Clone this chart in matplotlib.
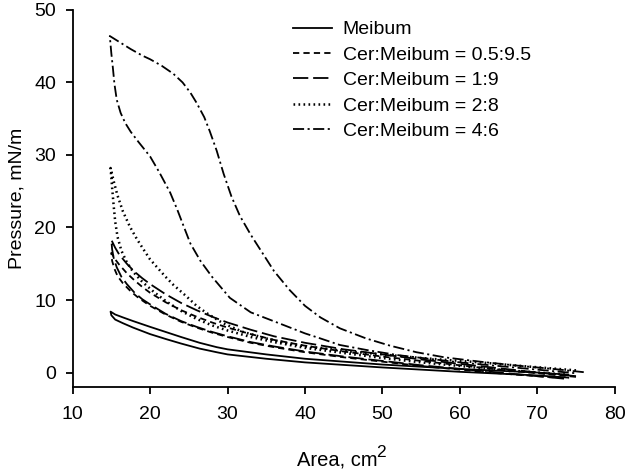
import matplotlib
matplotlib.use("Agg")
import matplotlib.pyplot as plt

plt.rcParams["font.family"] = ["Liberation Sans", "DejaVu Sans"]
plt.rcParams["lines.scale_dashes"] = False

# Each isotherm: compression branch (area decreasing) then expansion branch.
meibum_area = [74, 70, 60, 50, 40, 35, 30, 28.6, 26.4, 24, 22, 20, 17.8, 16.5, 15.5, 14.9,
               15.0, 15.5, 16.5, 17.8, 20, 22.1, 24, 26.4, 28.6, 30, 35, 40, 50, 60, 70, 74]
meibum_p = [-0.3, 0.0, 0.5, 1.1, 1.9, 2.5, 3.2, 3.5, 4.1, 4.9, 5.6, 6.3, 7.1, 7.6, 8.0, 8.4,
            7.9, 7.3, 6.8, 6.2, 5.3, 4.6, 4.0, 3.3, 2.8, 2.5, 1.9, 1.4, 0.7, 0.1, -0.4, -0.7]

c05_area = [75, 70, 65, 60, 55, 50, 45, 40, 36, 33, 30, 28, 26, 24, 22, 20, 19, 18, 17, 16, 15.5, 15,
            15.1, 15.4, 15.8, 16.5, 17.5, 18.5, 20, 22, 24, 26, 28, 30, 33, 36, 40, 45, 50, 55, 60,
            65, 70, 74]
c05_p = [-0.6, -0.1, 0.4, 1.0, 1.6, 2.2, 2.9, 3.7, 4.5, 5.3, 6.2, 6.9, 7.7, 8.6, 9.7, 11.0, 11.8,
         12.7, 13.7, 14.9, 15.6, 16.5,
         15.4, 14.3, 13.3, 12.3, 11.2, 10.3, 9.2, 8.0, 7.0, 6.2, 5.5, 4.9, 4.1, 3.5, 2.8, 2.1, 1.5,
         0.9, 0.4, -0.1, -0.5, -0.8]

c19_area = [75, 70, 65, 60, 55, 50, 45, 40, 36, 33, 30, 28, 26, 24, 22, 20, 19, 18, 17, 16, 15.5, 15,
            15.1, 15.3, 15.7, 16.3, 17, 18, 19, 20, 22, 24, 26, 28, 30, 33, 36, 40, 45, 50, 55, 60,
            65, 70, 74]
c19_p = [-0.5, 0.0, 0.6, 1.2, 1.8, 2.5, 3.2, 4.1, 5.0, 5.9, 6.9, 7.7, 8.6, 9.6, 10.8, 12.2, 13.0,
         13.9, 15.0, 16.3, 17.2, 18.3,
         17.0, 15.8, 14.5, 13.2, 12.2, 11.0, 10.1, 9.4, 8.1, 7.1, 6.3, 5.6, 5.0, 4.2, 3.6, 2.9, 2.2,
         1.6, 1.0, 0.5, 0.0, -0.5, -0.9]

c28_area = [75, 68, 62.6, 55, 50, 45.8, 41, 38, 35, 32, 29.4, 27.3, 26, 24.7, 23, 22, 21, 20, 19.2,
            18.3, 17.4, 16.5, 15.8, 15.3, 14.9,
            15.1, 15.3, 15.5, 15.8, 16.3, 17, 17.8, 19, 20.5, 22.1, 24, 26, 28, 30, 33, 36, 40, 45,
            50, 55, 60, 65, 70, 74]
c28_p = [0.3, 0.9, 1.4, 2.0, 2.5, 2.9, 3.5, 4.0, 4.7, 5.6, 6.8, 8.2, 9.2, 10.5, 12.1, 13.2, 14.4,
         15.6, 16.9, 18.4, 20.1, 22.2, 24.4, 26.4, 28.2,
         25.5, 23.0, 20.8, 18.7, 16.8, 15.2, 13.9, 12.5, 11.1, 9.8, 8.5, 7.4, 6.5, 5.8, 4.9, 4.2,
         3.4, 2.7, 2.0, 1.4, 0.9, 0.4, 0.0, -0.3]

c46_area = [76, 72, 67, 62.6, 58, 54.4, 51, 47.9, 44.5, 42, 40, 38, 36, 34.5, 33, 31.6, 30.5, 29.5,
            28.6, 27.7, 27, 26, 25.2, 24.2, 23, 21.5, 20, 19, 17.5, 16, 14.8,
            15.0, 15.2, 15.4, 15.7, 16.2, 16.8, 17.5, 18.5, 20, 21.2, 22.6, 23.5, 24.4, 25.2, 26.5, 28,
            30.3, 33, 36.4, 40, 42, 44.5, 48, 52, 56, 60, 65, 70, 75]
c46_p = [0.05, 0.5, 1.0, 1.5, 2.1, 2.8, 3.7, 4.7, 6.1, 7.6, 9.2, 11.4, 14.0, 16.5, 19.0, 21.6,
         24.3, 27.4, 30.6, 33.3, 35.2, 37.2, 38.6, 40.0, 41.2, 42.3, 43.2, 43.7, 44.6, 45.6, 46.4,
         44.0, 42.0, 39.8, 37.6, 35.8, 34.4, 33.2, 31.8, 29.8, 27.6, 24.8, 22.5, 20.0, 17.8, 15.4, 13.2,
         10.3, 8.3, 6.9, 5.4, 4.7, 3.8, 3.1, 2.4, 1.9, 1.4, 0.9, 0.4, -0.1]

labels = ["Meibum", "Cer:Meibum = 0.5:9.5", "Cer:Meibum = 1:9",
          "Cer:Meibum = 2:8", "Cer:Meibum = 4:6"]

fig = plt.figure(figsize=(6.26, 4.72), dpi=100)
ax = fig.add_axes([0.116, 0.180, 0.866, 0.799])

lw = 1.3
ax.plot(meibum_area, meibum_p, color="black", lw=lw, label=labels[0])
ax.plot(c05_area, c05_p, color="black", lw=lw, dashes=(4.5, 3), label=labels[1])
ax.plot(c19_area, c19_p, color="black", lw=lw, dashes=(11, 3.5), label=labels[2])
ax.plot(c28_area, c28_p, color="black", lw=lw * 1.4, dashes=(1.2, 2.4), label=labels[3])
ax.plot(c46_area, c46_p, color="black", lw=lw, dashes=(8, 2.5, 1.5, 2.5), label=labels[4])

ax.set_xlim(10, 80)
ax.set_ylim(-2, 50)
ax.set_xticks(range(10, 81, 10))
ax.set_yticks(range(0, 51, 10))
for s in ("top", "right"):
    ax.spines[s].set_visible(False)
for s in ("left", "bottom"):
    ax.spines[s].set_linewidth(1.3)
ax.tick_params(direction="out", length=5, width=1.3, labelsize=14)
ax.tick_params(axis="x", pad=9)
ax.tick_params(axis="y", pad=7)

# x label with a large superscript, as in the original
fig.text(0.603, 0.013, "Area, cm", fontsize=14.5, ha="right", va="baseline")
fig.text(0.601, 0.032, "2", fontsize=12.5, ha="left", va="baseline")
ax.set_ylabel("Pressure, mN/m", fontsize=14, labelpad=6)

ax.legend(loc="upper left", bbox_to_anchor=(0.468, 0.956), bbox_transform=fig.transFigure,
          frameon=False, fontsize=14, handlelength=2.0, handletextpad=0.55,
          labelspacing=0.4, borderpad=0, borderaxespad=0)

fig.savefig("out.png", dpi=100)
